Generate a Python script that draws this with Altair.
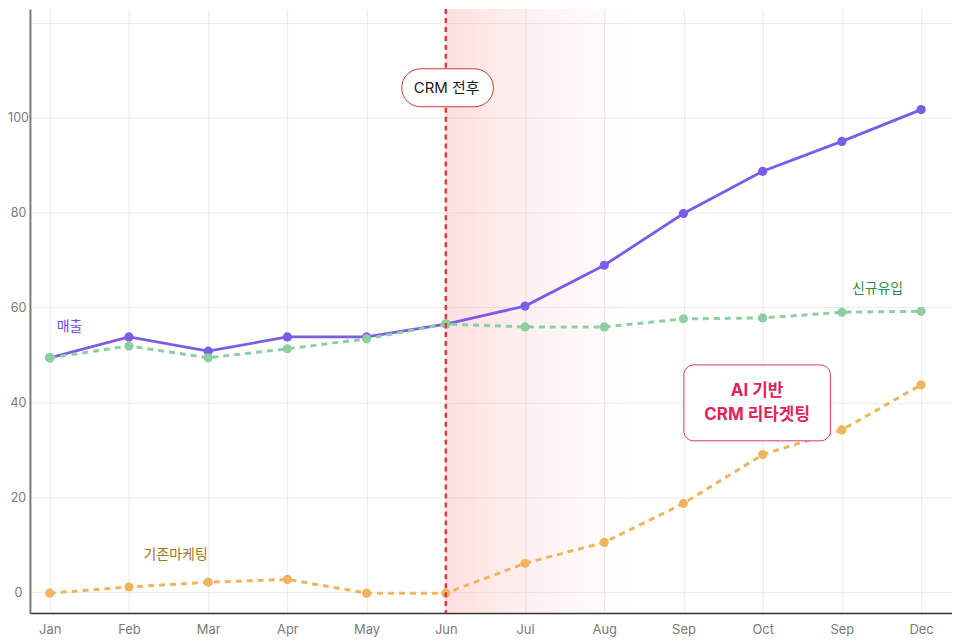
import json
import altair as alt
import pandas as pd

# ---- data ----
months = ["Jan", "Feb", "Mar", "Apr", "May", "Jun", "Jul", "Aug", "Sep", "Oct", "Sep", "Dec"]
sales = [49.4, 53.8, 50.8, 53.8, 53.8, 56.5, 60.3, 68.9, 79.8, 88.7, 95.0, 101.7]
new_users = [49.4, 51.9, 49.4, 51.3, 53.4, 56.5, 55.9, 55.9, 57.6, 57.8, 59.0, 59.2]
legacy_mkt = [-0.2, 1.1, 2.1, 2.7, -0.2, -0.2, 6.1, 10.5, 18.7, 29.0, 34.2, 43.7]
series_names = ["매출", "신규유입", "기존마케팅"]
y_ticks = [0, 20, 40, 60, 80, 100, 120]
event_index = 5  # Jun: CRM 전후

FONT = "Inter, 'Noto Sans CJK KR', sans-serif"
idx = list(range(len(months)))

x_scale = alt.Scale(domain=[-0.25, 11.39], nice=False, zero=False)
y_scale = alt.Scale(domain=[-4.4, 122.9], nice=False, zero=False)

x_axis = alt.Axis(
    values=idx,
    labelExpr=json.dumps(months) + "[datum.value]",
    title=None, grid=True, gridColor="#ebebeb", gridWidth=1,
    domainColor="#333333", domainWidth=1.5, ticks=False,
    labelPadding=10, labelFontSize=13, labelColor="#7a7a7a", labelFont=FONT,
)
y_axis = alt.Axis(
    values=y_ticks,
    labelExpr="datum.value > 100 ? '' : datum.label",
    title=None, grid=True, gridColor="#ebebeb", gridWidth=1,
    domainColor="#7a7a7a", domainWidth=2, ticks=False,
    labelAlign="center", labelPadding=12, labelFontSize=12.5,
    labelColor="#7a7a7a", labelFont=FONT,
)

def X(field="i"):
    return alt.X(f"{field}:Q", scale=x_scale, axis=x_axis)

def Y(field="v"):
    return alt.Y(f"{field}:Q", scale=y_scale, axis=y_axis)

# ---- shaded region after CRM ----
shade_df = pd.DataFrame({"x0": [event_index], "x1": [7.45], "y0": [-4.4], "y1": [122.9]})
shade = alt.Chart(shade_df).mark_rect(
    fill=alt.Gradient(
        gradient="linear",
        stops=[
            alt.GradientStop(color="rgba(250,150,150,0.30)", offset=0),
            alt.GradientStop(color="rgba(250,150,150,0.15)", offset=0.4),
            alt.GradientStop(color="rgba(250,150,150,0.04)", offset=0.8),
            alt.GradientStop(color="rgba(255,255,255,0)", offset=1),
        ],
        x1=0, x2=1, y1=0, y2=0,
    )
).encode(x=X("x0"), x2="x1:Q", y=Y("y0"), y2="y1:Q")

rule = alt.Chart(pd.DataFrame({"i": [event_index]})).mark_rule(
    color="#e03a3e", strokeWidth=2.5, strokeDash=[5, 4]
).encode(x=X())

# ---- series ----
def series(values, color, dash, point_color, width):
    df = pd.DataFrame({"i": idx, "v": values})
    kw = {"color": color, "strokeWidth": width}
    if dash:
        kw["strokeDash"] = dash
    line = alt.Chart(df).mark_line(**kw).encode(x=X(), y=Y())
    pts = alt.Chart(df).mark_circle(size=85, opacity=1, color=point_color).encode(x=X(), y=Y())
    return line + pts

s_sales = series(sales, "#7b5ce6", None, "#7b5ce6", 2.8)
s_new = series(new_users, "#8ccfa0", [6, 5], "#8ccfa0", 3)
s_legacy = series(legacy_mkt, "#efb45e", [6, 5], "#efb45e", 3)

# ---- series labels ----
lab_df = pd.DataFrame({
    "i": [0.25, 10.45, 1.59],
    "v": [55.9, 63.9, 7.8],
    "t": series_names,
    "c": ["#6a4de0", "#2f8a4e", "#a8741a"],
})
labels = alt.Chart(lab_df).mark_text(fontSize=14, font=FONT, baseline="middle", align="center").encode(
    x=X(), y=Y(), text="t:N", color=alt.Color("c:N", scale=None)
)

# ---- CRM 전후 pill ----
pill_df = pd.DataFrame({"x0": [4.443], "x1": [5.601], "y0": [102.3], "y1": [110.3]})
pill = alt.Chart(pill_df).mark_rect(
    fill="white", stroke="#c8393b", strokeWidth=1, cornerRadius=19
).encode(x=X("x0"), x2="x1:Q", y=Y("y0"), y2="y1:Q")
pill_text = alt.Chart(pd.DataFrame({"i": [5.01], "v": [106.3], "t": ["CRM 전후"]})).mark_text(
    fontSize=15, font=FONT, color="#1a1a1a", baseline="middle", align="center"
).encode(x=X(), y=Y(), text="t:N")

# ---- AI box ----
box_df = pd.DataFrame({"x0": [8.005], "x1": [9.855], "y0": [31.9], "y1": [47.9]})
box = alt.Chart(box_df).mark_rect(
    fill="white", stroke="#d6336c", strokeWidth=1, cornerRadius=10
).encode(x=X("x0"), x2="x1:Q", y=Y("y0"), y2="y1:Q")
box_text = alt.Chart(pd.DataFrame({
    "i": [8.93, 8.93], "v": [42.3, 37.4], "t": ["AI 기반", "CRM 리타겟팅"]
})).mark_text(
    fontSize=17, fontWeight="bold", font=FONT, color="#e0245e", baseline="middle", align="center"
).encode(x=X(), y=Y(), text="t:N")

chart = alt.layer(
    shade, s_sales, s_new, s_legacy, rule, pill, pill_text, labels, box, box_text
).properties(
    width=925, height=606,
    padding={"left": 22, "top": 0, "right": 0, "bottom": 28},
    autosize="none",
).configure_view(stroke=None)

chart.save("out.html", embed_options={"renderer": "svg", "actions": False})
